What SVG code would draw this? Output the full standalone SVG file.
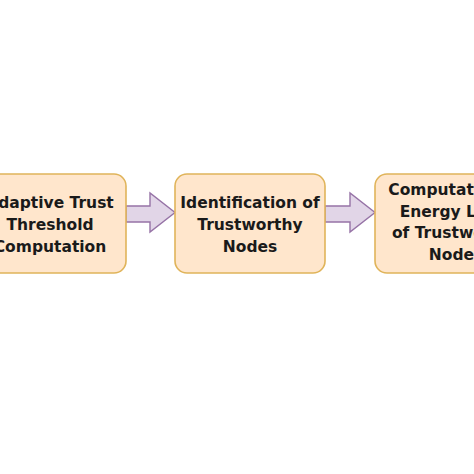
<svg xmlns="http://www.w3.org/2000/svg" width="474" height="474" viewBox="0 0 474 474">
<style>
.box{fill:#FFE6CC;stroke:#E0B45A;stroke-width:1.6}
.arr{fill:#E1D5E7;stroke:#9673A6;stroke-width:1.4;stroke-linejoin:miter}
.t{font-family:"DejaVu Sans",sans-serif;font-weight:bold;font-size:15.5px;fill:#1a1a1a;text-anchor:middle}
</style>
<rect width="474" height="474" fill="#ffffff"/>
<g id="connectors">
<polygon class="arr" points="126,206 150,206 150,193 175,212.5 150,232 150,222 126,222"/>
<polygon class="arr" points="325,206 350,206 350,193 375,212.5 350,232 350,222 325,222"/>
</g>
<g id="node1">
<rect class="box" x="-24" y="174" width="150" height="99" rx="12"/>
<text class="t" x="50" y="208">Adaptive Trust</text>
<text class="t" x="50" y="230">Threshold</text>
<text class="t" x="50" y="252">Computation</text>
</g>
<g id="node2">
<rect class="box" x="175" y="174" width="150" height="99" rx="12"/>
<text class="t" x="250" y="208">Identification of</text>
<text class="t" x="250" y="230">Trustworthy</text>
<text class="t" x="250" y="252">Nodes</text>
</g>
<g id="node3">
<rect class="box" x="375" y="174" width="160" height="99" rx="12"/>
<text class="t" x="456" y="195">Computation of</text>
<text class="t" x="456" y="217">Energy Level</text>
<text class="t" x="456" y="238">of Trustworthy</text>
<text class="t" x="456" y="260">Nodes</text>
</g>
</svg>
